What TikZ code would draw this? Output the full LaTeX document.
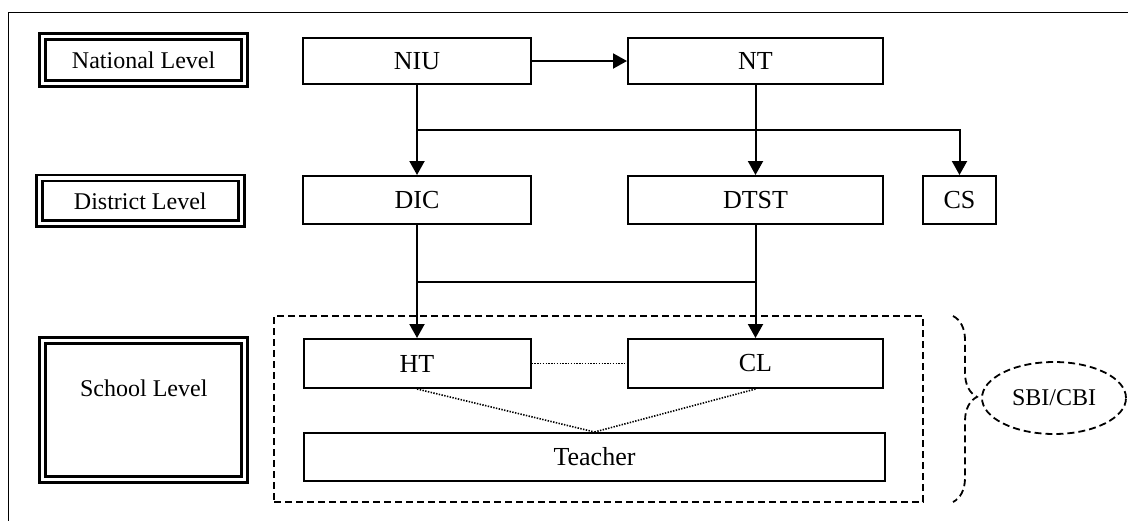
\documentclass[tikz,border=0pt]{standalone}
\usepackage{fontspec}
\setmainfont{Liberation Serif}
\usepackage{tikz}
\usetikzlibrary{positioning,arrows.meta,shapes.geometric,decorations.pathreplacing}

\begin{document}
\begin{tikzpicture}[x=0.5pt,y=-0.5pt,
  unit/.style={draw, line width=1pt, inner sep=0pt, minimum height=24pt, font=\fontsize{13}{15}\selectfont},
  level/.style={draw, line width=1.35pt, double, double distance=1.65pt, inner sep=0pt, minimum width=101pt, font=\fontsize{12}{14}\selectfont},
  flow/.style={line width=1pt, -{Triangle[length=7pt,width=7.5pt]}},
  link/.style={line width=1pt},
  weak/.style={line width=0.8pt, dash pattern=on 0.7pt off 0.7pt},
  group/.style={line width=0.9pt, dash pattern=on 3.5pt off 2pt}]
\clip (0,0) rectangle (1128,520);
\draw[line width=0.5pt] (8,12) rectangle (1140,530);
% levels
\node[level, minimum height=23.5pt] (national) at (143.6,60.1) {National Level};
\node[level, minimum height=22.75pt] (district) at (140.3,200.8) {District Level};
\node[level, minimum height=69.5pt] (school) at (143.8,409.7) {};
\node[font=\fontsize{12}{14}\selectfont] (schooltext) at (143.8,388) {School Level};
% units
\node[unit, minimum width=114pt, minimum height=23pt] (niu) at (417,61) {NIU};
\node[unit, minimum width=127.5pt, minimum height=23pt] (nt) at (755.5,61) {NT};
\node[unit, minimum width=114pt] (dic) at (417,200) {DIC};
\node[unit, minimum width=127.5pt] (dtst) at (755.5,200) {DTST};
\node[unit, minimum width=36.5pt] (cs) at (959.5,200) {CS};
\node[unit, minimum width=113.5pt, minimum height=24.5pt] (ht) at (417,363.5) {HT};
\node[unit, minimum width=127.5pt, minimum height=24.5pt] (cl) at (755.5,363.5) {CL};
\node[unit, minimum width=290.5pt] (teacher) at (594.5,457) {Teacher};
% school group
\node[group, draw, inner sep=0pt, minimum width=324.5pt, minimum height=93pt] (area) at (598.5,409) {};
\node[group, draw, ellipse, inner sep=0pt, minimum width=72pt, minimum height=36pt, font=\fontsize{12}{14}\selectfont] (sbi) at (1054,398) {SBI/CBI};
\coordinate (bracetop) at (953,316);
\coordinate (bracebot) at (953,502);
\draw[group, decorate, decoration={brace, amplitude=12pt, aspect=0.435}] (bracetop) -- (bracebot);
% connectors
\coordinate (split) at (417,130);
\coordinate (joinl) at (417,282);
\coordinate (joinr) at (755.5,282);
\draw[flow] (niu) -- (nt);
\draw[flow] (niu) -- (dic);
\draw[flow] (split) -| (cs);
\draw[flow] (nt) -- (dtst);
\draw[flow] (dic) -- (ht);
\draw[flow] (dtst) -- (cl);
\draw[link] (joinl) -- (joinr);
\draw[weak] (ht) -- (cl);
\draw[weak] (ht.south) -- (teacher.north);
\draw[weak] (cl.south) -- (teacher.north);
\end{tikzpicture}
\end{document}
